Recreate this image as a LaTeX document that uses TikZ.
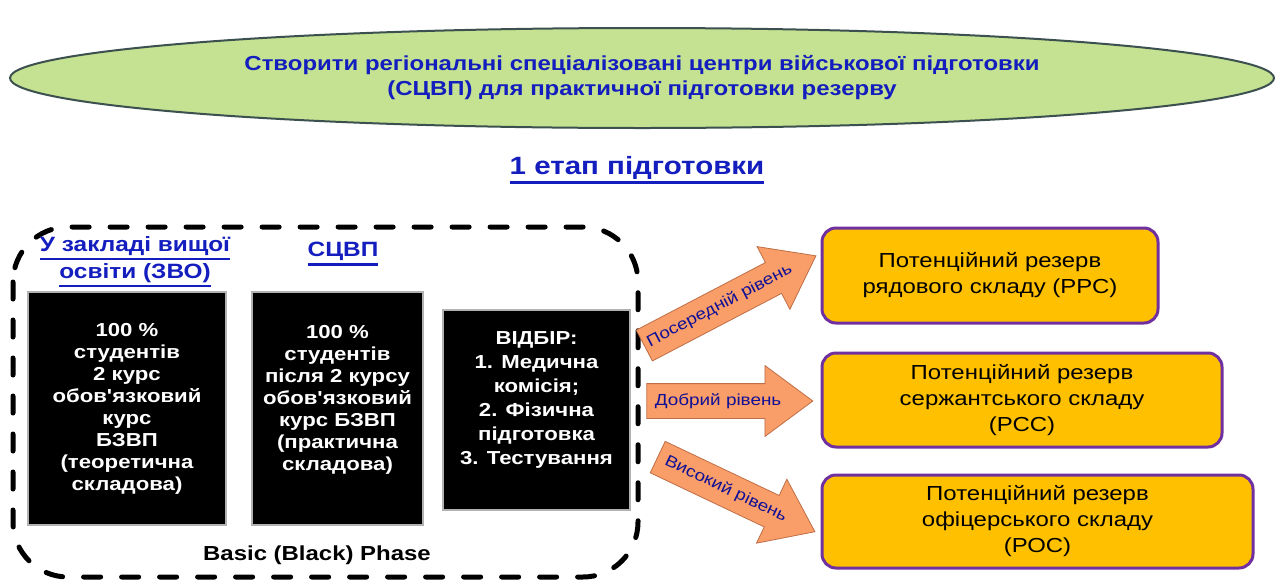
\documentclass[tikz,border=0pt]{standalone}
\usepackage{fontspec}
\setmainfont{Liberation Sans}[FakeStretch=1.18, Ligatures=TeXOff]
\usetikzlibrary{shapes.geometric,shapes.arrows}
\definecolor{goalgreen}{RGB}{196,226,145}
\definecolor{goalrim}{RGB}{60,80,80}
\definecolor{headblue}{RGB}{20,30,190}
\definecolor{levelnavy}{RGB}{16,16,150}
\definecolor{arrowsalmon}{RGB}{250,158,105}
\definecolor{arrowrim}{RGB}{190,110,70}
\definecolor{reserveorange}{RGB}{255,192,0}
\definecolor{reservepurple}{RGB}{112,48,160}
\newcommand{\ulined}[1]{\leavevmode\vtop{\hbox{#1}\kern2pt\hrule height 2.5pt}}
\tikzset{
  blackbox/.style={draw=gray!60, line width=1.5pt, fill=black, text=white, align=center, inner sep=0pt, font=\bfseries\fontsize{18.8}{22}\selectfont},
  reserve/.style={draw=reservepurple, line width=3pt, fill=reserveorange, rounded corners=14pt, align=center, font=\fontsize{20.3}{26}\selectfont},
  level/.style={single arrow, single arrow head extend=18pt, single arrow tip angle=73, single arrow head indent=0pt, fill=arrowsalmon, draw=arrowrim, line width=0.8pt, text=levelnavy, font=\fontsize{16}{20}\selectfont, inner xsep=4pt, inner ysep=9pt, text height=12pt, text depth=4pt}
}

\begin{document}
\begin{tikzpicture}[x=1pt, y=-1pt]
\useasboundingbox (0,0) rectangle (1278,579);
\node[ellipse, draw=goalrim, line width=2pt, fill=goalgreen, minimum width=1264pt, minimum height=100pt, align=center, text=headblue, font=\bfseries\fontsize{20.3}{25}\selectfont] (goal) at (642,78) {Створити регіональні спеціалізовані центри військової підготовки\\(СЦВП) для практичної підготовки резерву};
\node[text=headblue, font=\bfseries\fontsize{25}{30}\selectfont] (stage) at (637,170) {\ulined{1 етап підготовки}};

\draw[line width=5pt, dash pattern=on 17pt off 21pt, line cap=round, rounded corners=55pt] (13,227) rectangle (638,577);
\node[text=headblue, align=center, font=\bfseries\fontsize{20.7}{27}\selectfont] (zvo) at (135,262) {\ulined{У закладі вищої}\\\ulined{освіти (ЗВО)}};
\node[text=headblue, font=\bfseries\fontsize{20.7}{27}\selectfont] (scvp) at (343,254) {\ulined{СЦВП}};

\node[blackbox, minimum width=198pt, minimum height=233pt] (theory) at (127,408.5) {100 \%\\студентів\\2 курс\\обов'язковий\\курс\\БЗВП\\(теоретична\\складова)};
\node[blackbox, minimum width=171pt, minimum height=233pt] (practice) at (337.5,408.5) {100 \%\\студентів\\після 2 курсу\\обов'язковий\\курс БЗВП\\(практична\\складова)\\\mbox{}};
\node[blackbox, minimum width=187pt, minimum height=200pt, font=\bfseries\fontsize{18.8}{24}\selectfont] (selection) at (536.5,410) {ВІДБІР:\\1. Медична\\комісія;\\2. Фізична\\підготовка\\3. Тестування\\\mbox{}};
\node[font=\bfseries\fontsize{20.3}{24}\selectfont] (phase) at (317,555) {Basic (Black) Phase};

\node[reserve, minimum width=336pt, minimum height=95pt] (ordinary) at (990,275.5) {Потенційний резерв\\рядового складу (РРС)};
\node[reserve, minimum width=400pt, minimum height=94pt] (sergeant) at (1022,400) {Потенційний резерв\\сержантського складу\\(РСС)};
\node[reserve, minimum width=431pt, minimum height=93pt] (officer) at (1037.5,521.5) {Потенційний резерв\\офіцерського складу\\(РОС)};

\node[level, minimum height=191pt, rotate=27.6, anchor=tip] (middle) at ([shift={(-4,-20)}]ordinary.west) {Посередній рівень};
\node[level, minimum height=166pt, anchor=tip] (good) at ([shift={(-7,1)}]sergeant.west) {Добрий рівень};
\node[level, minimum height=174pt, rotate=-25.4, anchor=tip] (high) at ([shift={(-5,10.5)}]officer.west) {Високий рівень};
\end{tikzpicture}
\end{document}
